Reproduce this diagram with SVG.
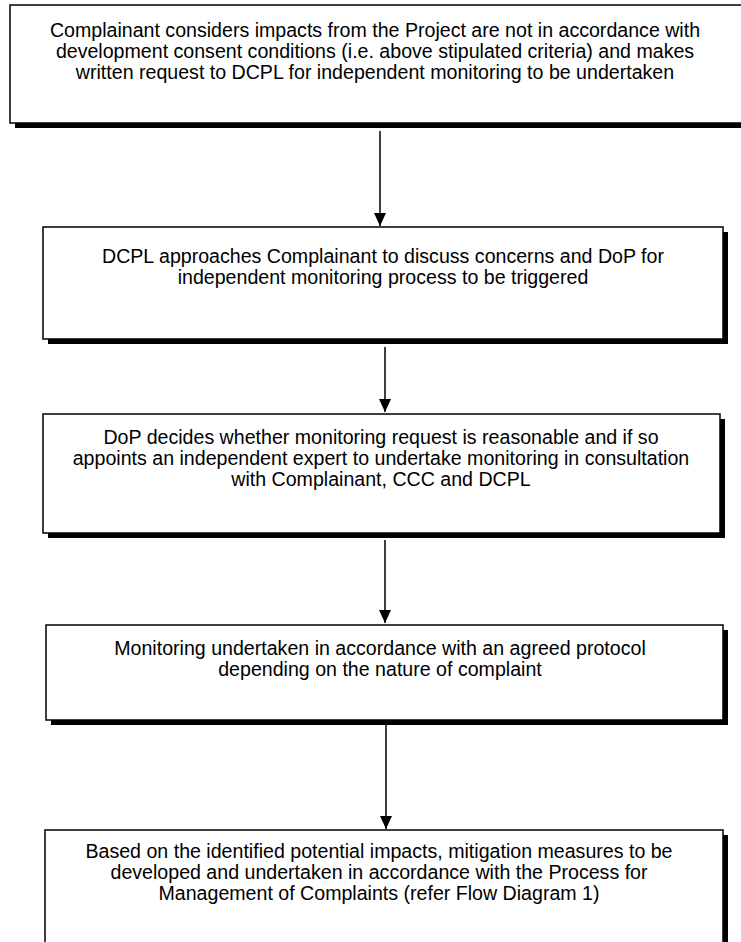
<svg xmlns="http://www.w3.org/2000/svg" width="741" height="942" viewBox="0 0 741 942">
<style>
.shadow{fill:#000}
.box{fill:#fff;stroke:#000;stroke-width:1.5}
.t{font-family:"Liberation Sans",Arial,sans-serif;font-size:19.6px;fill:#000;text-anchor:middle}
.conn{stroke:#000;stroke-width:1.5;fill:none}
</style>
<defs>
<marker id="ah" markerWidth="13" markerHeight="12" refX="13" refY="6" orient="auto" markerUnits="userSpaceOnUse" viewBox="0 0 13 12">
<path d="M0,0 L13,6 L0,12 Z" fill="#000"/>
</marker>
</defs>
<rect width="741" height="942" fill="#fff"/>
<g id="node1">
<rect class="shadow" x="15" y="10" width="760" height="118"/>
<rect class="box" x="10" y="5" width="760" height="118"/>
<text class="t" x="375" y="37">Complainant considers impacts from the Project are not in accordance with</text>
<text class="t" x="375" y="58">development consent conditions (i.e. above stipulated criteria) and makes</text>
<text class="t" x="375" y="79">written request to DCPL for independent monitoring to be undertaken</text>
</g>
<g id="node2">
<rect class="shadow" x="48" y="232" width="680" height="112"/>
<rect class="box" x="43" y="227" width="680" height="112"/>
<text class="t" x="383" y="263">DCPL approaches Complainant to discuss concerns and DoP for</text>
<text class="t" x="383" y="284">independent monitoring process to be triggered</text>
</g>
<g id="node3">
<rect class="shadow" x="48" y="419" width="677" height="119"/>
<rect class="box" x="43" y="414" width="677" height="119"/>
<text class="t" x="381" y="444">DoP decides whether monitoring request is reasonable and if so</text>
<text class="t" x="381" y="465">appoints an independent expert to undertake monitoring in consultation</text>
<text class="t" x="381" y="486">with Complainant, CCC and DCPL</text>
</g>
<g id="node4">
<rect class="shadow" x="51" y="630" width="677" height="95"/>
<rect class="box" x="46" y="625" width="677" height="95"/>
<text class="t" x="380" y="655">Monitoring undertaken in accordance with an agreed protocol</text>
<text class="t" x="380" y="676">depending on the nature of complaint</text>
</g>
<g id="node5">
<rect class="shadow" x="50" y="835" width="678" height="140"/>
<rect class="box" x="45" y="830" width="678" height="140"/>
<text class="t" x="379" y="858">Based on the identified potential impacts, mitigation measures to be</text>
<text class="t" x="379" y="879">developed and undertaken in accordance with the Process for</text>
<text class="t" x="379" y="900">Management of Complaints (refer Flow Diagram 1)</text>
</g>
<g id="connectors">
<line class="conn" x1="380" y1="131" x2="380" y2="226" marker-end="url(#ah)"/>
<line class="conn" x1="385" y1="347" x2="385" y2="412" marker-end="url(#ah)"/>
<line class="conn" x1="385" y1="540" x2="385" y2="623" marker-end="url(#ah)"/>
<line class="conn" x1="386" y1="725" x2="386" y2="829" marker-end="url(#ah)"/>
</g>
</svg>
